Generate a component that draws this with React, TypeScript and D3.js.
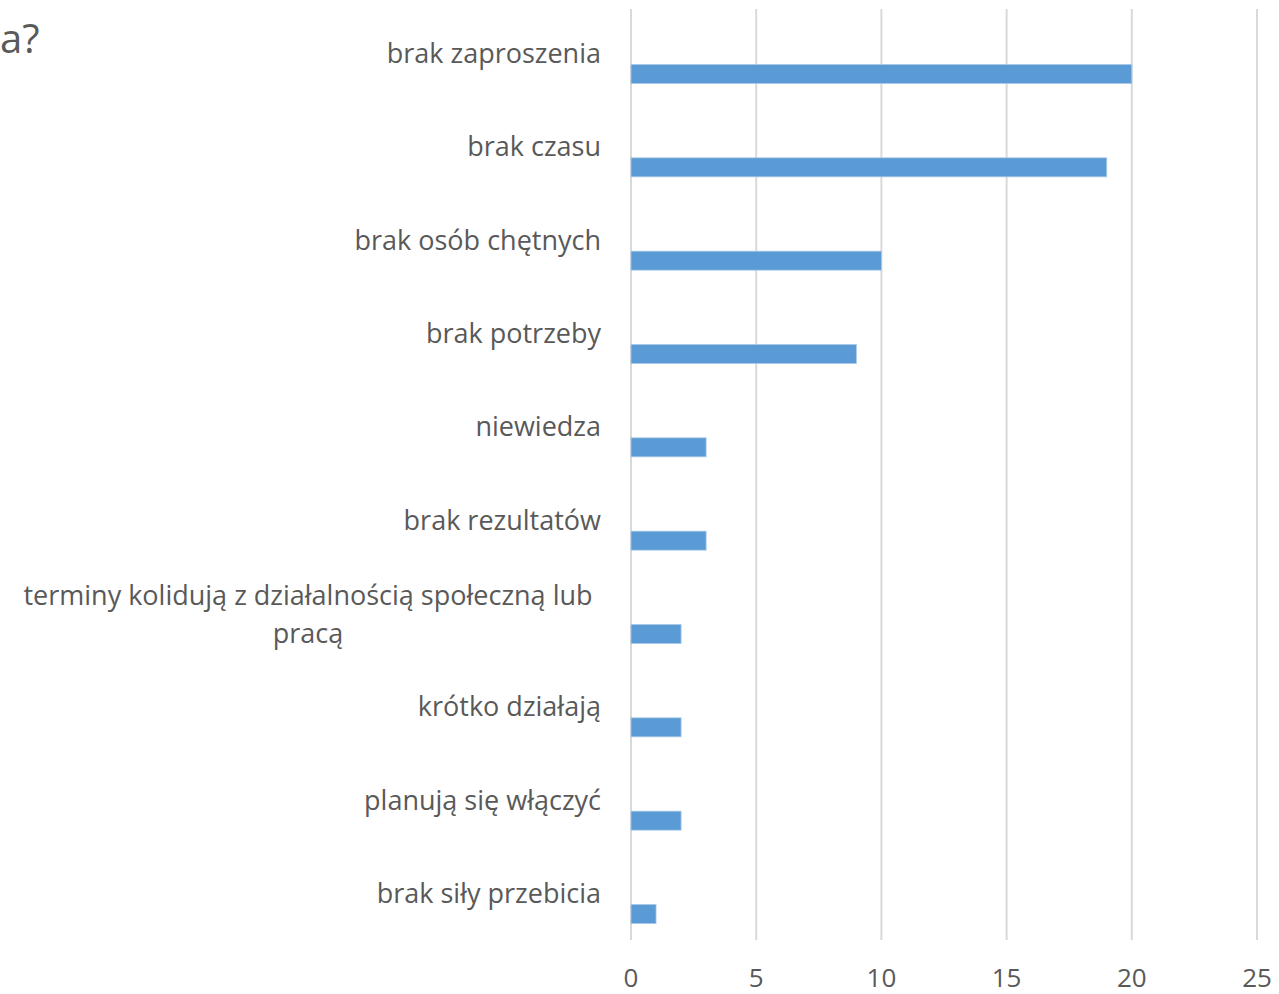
import React from "react";
import * as d3 from "d3";

const categories = [
  "brak zaproszenia",
  "brak czasu",
  "brak osób chętnych",
  "brak potrzeby",
  "niewiedza",
  "brak rezultatów",
  "terminy kolidują z działalnością społeczną lub pracą",
  "krótko działają",
  "planują się włączyć",
  "brak siły przebicia",
];
const values = [20, 19, 10, 9, 3, 3, 2, 2, 2, 1];
const ticks = [0, 5, 10, 15, 20, 25];
const titleFragment = "a?";

const W = 1279;
const H = 994;
const FONT = "'Open Sans', 'Noto Sans', sans-serif";
const TEXT = "#595959";

// wrap long category names into lines of limited length
function wrap(label: string, maxChars: number): string[] {
  const words = label.split(" ");
  const lines: string[] = [];
  let cur = "";
  for (const w of words) {
    const next = cur ? cur + " " + w : w;
    if (next.length > maxChars && cur) {
      lines.push(cur);
      cur = w;
    } else cur = next;
  }
  if (cur) lines.push(cur);
  return lines;
}

export default function App() {
  const x = d3.scaleLinear().domain([0, 25]).range([631, 1257]);
  const y = d3.scalePoint<string>().domain(categories).range([74, 914]);
  const barH = 19;
  const gridTop = 9;
  const gridBottom = 940;
  const labelSize = 27;

  return (
    <svg
      width={W}
      height={H}
      style={{ position: "absolute", left: 0, top: 0, background: "#fff" }}
      fontFamily={FONT}
    >
      <text x={0} y={53} fontSize={40} fill={TEXT}>
        {titleFragment}
      </text>
      {ticks.map((t) => (
        <g key={t}>
          <line
            x1={x(t)}
            x2={x(t)}
            y1={gridTop}
            y2={gridBottom}
            stroke="#d9d9d9"
            strokeWidth={2}
          />
          <text
            x={x(t)}
            y={987}
            textAnchor="middle"
            fontSize={26}
            fill={TEXT}
          >
            {t}
          </text>
        </g>
      ))}
      {categories.map((c, i) => {
        const cy = y(c)!;
        const lines = wrap(c, 46);
        const labelX = 601;
        return (
          <g key={c}>
            <rect
              x={x(0)}
              y={cy - barH / 2}
              width={x(values[i]) - x(0)}
              height={barH}
              fill="#5b9bd5"
              stroke="#a9c8e8"
              strokeWidth={0.8}
            />
            {lines.length === 1 ? (
              <text
                x={labelX}
                y={cy - 11}
                textAnchor="end"
                fontSize={labelSize}
                fill={TEXT}
              >
                {c}
              </text>
            ) : (
              <text
                x={308}
                y={cy - 29}
                textAnchor="middle"
                fontSize={labelSize}
                fill={TEXT}
              >
                {lines.map((l, k) => (
                  <tspan key={k} x={308} dy={k === 0 ? 0 : 38}>
                    {l}
                  </tspan>
                ))}
              </text>
            )}
          </g>
        );
      })}
    </svg>
  );
}
